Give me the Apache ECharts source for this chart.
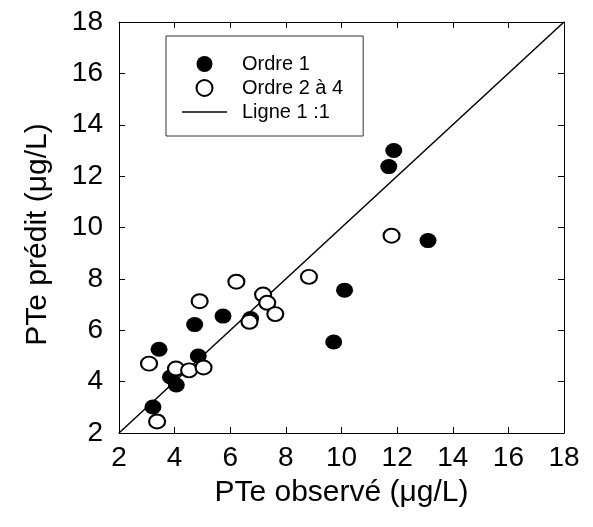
<!DOCTYPE html>
<html>
<head>
<meta charset="utf-8">
<script src="https://cdn.jsdelivr.net/npm/echarts@6/dist/echarts.min.js"></script>
<style>
html,body{margin:0;padding:0;background:#fff;}
#chart{width:593px;height:527px;}
</style>
</head>
<body>
<div id="chart"></div>
<script>
// Data
const ordre1 = [
  [11.88, 13.00], [11.70, 12.37], [13.11, 9.49], [10.11, 7.56], [9.72, 5.54],
  [5.74, 6.55], [6.73, 6.46], [4.72, 6.22], [3.44, 5.26], [4.85, 5.00],
  [3.85, 4.18], [4.06, 3.87], [3.22, 3.01]
];
const ordre2a4 = [
  [11.80, 9.68], [8.83, 8.08], [6.22, 7.89], [4.90, 7.13], [7.18, 7.39],
  [7.33, 7.07], [7.62, 6.63], [6.69, 6.33], [3.08, 4.70], [4.05, 4.51],
  [4.52, 4.44], [5.04, 4.55], [3.37, 2.45]
];
const ligne11 = [[2, 2], [18, 18]];
const axisMin = 2, axisMax = 18, axisStep = 2;
const xTitle = 'PTe observé (μg/L)';
const yTitle = 'PTe prédit (μg/L)';
const seriesNames = ['Ordre 1', 'Ordre 2 à 4', 'Ligne 1 :1'];

const FONT = "'Liberation Sans', Arial, Helvetica, sans-serif";
const chart = echarts.init(document.getElementById('chart'), null, {renderer: 'canvas'});

function axisBase(extra) {
  return Object.assign({
    type: 'value', min: axisMin, max: axisMax, interval: axisStep,
    axisLine: {show: true, onZero: false, lineStyle: {color: '#000', width: 1}},
    axisTick: {show: true, inside: true, length: 6, lineStyle: {color: '#000', width: 1}},
    splitLine: {show: false},
    axisLabel: {show: false}
  }, extra);
}

const option = {
  backgroundColor: '#fff',
  animation: false,
  textStyle: {fontFamily: FONT},
  grid: {left: 119, right: 29, top: 22, bottom: 94, containLabel: false},
  xAxis: [
    axisBase({
      position: 'bottom',
      name: xTitle, nameLocation: 'middle', nameGap: 45, nameMoveOverlap: false,
      nameTextStyle: {fontSize: 30, color: '#000', fontFamily: FONT},
      axisLabel: {show: true, fontSize: 28, color: '#000', margin: 11, fontFamily: FONT}
    }),
    axisBase({position: 'top'})
  ],
  yAxis: [
    axisBase({
      position: 'left',
      name: yTitle, nameLocation: 'middle', nameGap: 66, nameRotate: 90, nameMoveOverlap: false,
      nameTextStyle: {fontSize: 30, color: '#000', fontFamily: FONT, padding: [0, 14, 0, 0]},
      axisLabel: {show: true, fontSize: 28, color: '#000', margin: 16, fontFamily: FONT}
    }),
    axisBase({position: 'right'})
  ],
  legend: {
    show: true,
    data: [
      {name: seriesNames[0], icon: 'circle'},
      {name: seriesNames[1], icon: 'circle'},
      {name: seriesNames[2], icon: 'path://M0,0H45V1.5H0Z'}
    ],
    orient: 'vertical',
    left: 166, top: 36,
    padding: [18, 20, 14, 16],
    itemGap: 4,
    itemWidth: 45, itemHeight: 16,
    borderColor: '#333', borderWidth: 1,
    backgroundColor: '#fff',
    textStyle: {fontSize: 20, color: '#000', fontFamily: FONT, padding: [0, 0, 0, 10]},
    selectedMode: false
  },
  series: [
    {
      name: seriesNames[2], type: 'line', data: ligne11,
      symbol: 'none', z: 1,
      lineStyle: {color: '#000', width: 1.5},
      itemStyle: {color: '#000'}
    },
    {
      name: seriesNames[0], type: 'scatter', data: ordre1, z: 3,
      symbol: 'circle', symbolSize: [17, 15],
      itemStyle: {color: '#000', opacity: 1}
    },
    {
      name: seriesNames[1], type: 'scatter', data: ordre2a4, z: 4,
      symbol: 'circle', symbolSize: [16, 14],
      itemStyle: {color: '#fff', borderColor: '#000', borderWidth: 2, opacity: 1}
    }
  ]
};
chart.setOption(option);
</script>
</body>
</html>
